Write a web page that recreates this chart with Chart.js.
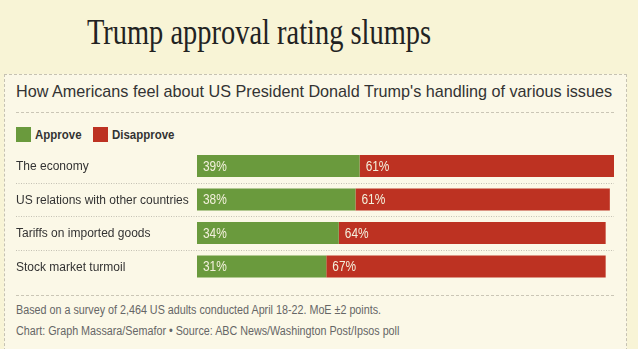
<!DOCTYPE html>
<html>
<head>
<meta charset="utf-8">
<script src="https://cdn.jsdelivr.net/npm/chart.js@4"></script>
<style>
  html, body { margin: 0; padding: 0; }
  body {
    width: 638px; height: 349px; overflow: hidden; position: relative;
    background: #f8f4d6;
    font-family: "Liberation Sans", sans-serif;
  }
  #title {
    position: absolute; left: 0; top: 11px; width: 518px; text-align: center;
    font-family: "Liberation Serif", serif; font-size: 36px; color: #222;
    transform: scaleX(0.79); transform-origin: 259px 0; white-space: nowrap;
  }
  #panel {
    position: absolute; left: 4px; top: 74px; width: 621px; height: 300px;
    background: #fbf8e7; border: 1px dashed #c6c2b2;
  }
  #subtitle {
    position: absolute; left: 16px; top: 82px; white-space: nowrap;
    font-size: 16.2px; color: #333;
  }
  .rule { position: absolute; left: 16px; width: 598px; border-top: 1px dashed #cac6b6; }
  #legend { position: absolute; left: 16px; top: 126px; height: 16px; display: flex; align-items: center; }
  #legend span.sw { display: inline-block; width: 15px; height: 15px; margin-right: 4px; }
  #legend span.lb {
    display: inline-block; font-size: 13.5px; font-weight: bold; color: #333;
    transform: scaleX(0.85); transform-origin: 0 50%; margin-right: 3px;
  }
  .note {
    position: absolute; left: 16px; font-size: 12.5px; color: #666; white-space: nowrap;
    transform: scaleX(0.86); transform-origin: 0 0;
  }
  #wrap { position: absolute; left: 0; top: 140px; width: 638px; height: 152px; }
</style>
</head>
<body>
<div id="title">Trump approval rating slumps</div>
<div id="panel"></div>
<div id="subtitle">How Americans feel about US President Donald Trump's handling of various issues</div>
<div class="rule" style="top:112px"></div>
<div id="legend"></div>
<div id="wrap"><canvas id="bars"></canvas></div>
<div class="rule" style="top:295px"></div>
<div class="note" style="top:303px">Based on a survey of 2,464 US adults conducted April 18-22. MoE ±2 points.</div>
<div class="note" style="top:324px">Chart: Graph Massara/Semafor • Source: ABC News/Washington Post/Ipsos poll</div>

<script>
const issues = [
  "The economy",
  "US relations with other countries",
  "Tariffs on imported goods",
  "Stock market turmoil",
];
const approve = [39, 38, 34, 31];
const disapprove = [61, 61, 64, 67];
const seriesNames = ["Approve", "Disapprove"];
const seriesColors = ["#6a9a3d", "#bd3222"];

const FONT = "'Liberation Sans', sans-serif";

// legend built from the series names / colours
const legend = document.getElementById("legend");
seriesNames.forEach((name, i) => {
  const sw = document.createElement("span");
  sw.className = "sw";
  sw.style.background = seriesColors[i];
  const lb = document.createElement("span");
  lb.className = "lb";
  lb.textContent = name;
  legend.appendChild(sw);
  legend.appendChild(lb);
});

// dotted separators between rows, running under the labels too
const rowLines = {
  id: "rowLines",
  beforeDatasetsDraw(chart) {
    const y = chart.scales.y;
    const ctx = chart.ctx;
    ctx.save();
    ctx.strokeStyle = "rgba(0,0,0,0.22)";
    ctx.lineWidth = 1;
    ctx.setLineDash([1, 1.5]);
    for (let i = 0; i < issues.length - 1; i++) {
      const py = Math.round((y.getPixelForValue(i) + y.getPixelForValue(i + 1)) / 2) + 0.5;
      ctx.beginPath();
      ctx.moveTo(y.left, py);
      ctx.lineTo(chart.chartArea.right, py);
      ctx.stroke();
    }
    ctx.restore();
  },
};

// percentage labels at the start of each segment (slightly condensed)
const segLabels = {
  id: "segLabels",
  afterDatasetsDraw(chart) {
    const ctx = chart.ctx;
    const squeeze = 0.85;
    chart.data.datasets.forEach((ds, di) => {
      chart.getDatasetMeta(di).data.forEach((bar, i) => {
        const start = Math.min(bar.base, bar.x);
        ctx.save();
        ctx.translate(start + 6, bar.y + 1);
        ctx.scale(squeeze, 1);
        ctx.font = "14px " + FONT;
        ctx.fillStyle = "#f3f0dc";
        ctx.textAlign = "left";
        ctx.textBaseline = "middle";
        ctx.fillText(ds.data[i] + "%", 0, 0);
        ctx.restore();
      });
    });
  },
};

new Chart(document.getElementById("bars"), {
  type: "bar",
  data: {
    labels: issues,
    datasets: [
      { label: seriesNames[0], data: approve, backgroundColor: seriesColors[0] },
      { label: seriesNames[1], data: disapprove, backgroundColor: seriesColors[1] },
    ],
  },
  options: {
    indexAxis: "y",
    responsive: true,
    maintainAspectRatio: false,
    animation: false,
    layout: { padding: { left: 16, right: 24, top: 9.25, bottom: 8.75 } },
    datasets: { bar: { barPercentage: 0.66, categoryPercentage: 1, borderWidth: 0 } },
    plugins: {
      legend: { display: false },
      tooltip: { enabled: false },
    },
    scales: {
      x: { stacked: true, min: 0, max: 100, display: false },
      y: {
        stacked: true,
        grid: { display: false, drawTicks: false },
        border: { display: false },
        ticks: {
          crossAlign: "far",
          padding: 0,
          labelOffset: 1,
          color: "#333",
          font: { family: FONT, size: 12 },
        },
        afterFit(scale) { scale.width = 181; },
      },
    },
  },
  plugins: [rowLines, segLabels],
});
</script>
</body>
</html>
